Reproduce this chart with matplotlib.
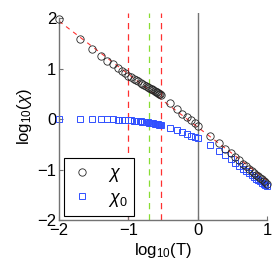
import numpy as np
import matplotlib
matplotlib.use("Agg")
import matplotlib.pyplot as plt

plt.rcParams['font.family'] = ['Liberation Sans', 'DejaVu Sans']
plt.rcParams['mathtext.fontset'] = 'custom'
plt.rcParams['mathtext.rm'] = 'Liberation Sans'
plt.rcParams['mathtext.it'] = 'Liberation Sans:italic'

# temperatures (same grid for both series)
T = [0.01, 0.02, 0.03, 0.04, 0.05, 0.06, 0.07, 0.08, 0.09, 0.10,
     0.11, 0.12, 0.13, 0.14, 0.15, 0.16, 0.17, 0.18, 0.19, 0.20,
     0.21, 0.22, 0.23, 0.24, 0.25, 0.26, 0.27, 0.28, 0.29, 0.30,
     0.4, 0.5, 0.6, 0.7, 0.8, 0.9, 1.0,
     1.5, 2.0, 2.5, 3.0, 3.5, 4.0, 4.5, 5.0, 5.5, 6.0,
     6.5, 7.0, 7.5, 8.0, 8.5, 9.0, 9.5, 10.0]

# log10(chi)
log_chi = [1.98, 1.58, 1.38, 1.25, 1.16, 1.09, 1.02, 0.96, 0.91, 0.86,
           0.83, 0.80, 0.77, 0.745, 0.72, 0.70, 0.68, 0.66, 0.64, 0.62,
           0.605, 0.59, 0.575, 0.56, 0.545, 0.53, 0.515, 0.50, 0.49, 0.475,
           0.31, 0.19, 0.11, 0.045, -0.02, -0.08, -0.14,
           -0.33, -0.47, -0.585, -0.675, -0.75, -0.82, -0.88, -0.93, -0.98, -1.02,
           -1.06, -1.10, -1.135, -1.165, -1.195, -1.225, -1.25, -1.28]

# log10(chi_0)
log_chi0 = [0.01, 0.0, 0.0, 0.0, -0.005, -0.005, -0.01, -0.01, -0.015, -0.02,
            -0.025, -0.03, -0.035, -0.04, -0.045, -0.05, -0.055, -0.06, -0.065, -0.07,
            -0.075, -0.08, -0.085, -0.09, -0.095, -0.10, -0.105, -0.11, -0.115, -0.12,
            -0.18, -0.22, -0.26, -0.30, -0.33, -0.36, -0.38,
            -0.51, -0.63, -0.72, -0.80, -0.87, -0.93, -0.98, -1.03, -1.07, -1.11,
            -1.15, -1.18, -1.21, -1.23, -1.26, -1.28, -1.30, -1.32]

# reference (Curie-like) line end points and marked temperatures
fit_x = [-2.0, 1.0]
fit_y = [1.94, -1.21]
red_lines = [-1.0, np.log10(0.3)]
green_line = np.log10(0.2)

logT = np.log10(T)

fig = plt.figure(figsize=(2.77, 2.72), dpi=100)
ax = fig.add_axes([0.213, 0.191, 0.751, 0.761])

ax.plot(fit_x, fit_y, color='#ff3030', ls=(0, (4, 4)), lw=0.8, zorder=1)
for xv in red_lines:
    ax.plot([xv, xv], [-2, 2.1], color='#ff3030', ls=(0, (5, 4)), lw=0.9, zorder=1)
ax.plot([green_line] * 2, [-2, 2.1], color='#88dd33', ls=(0, (5, 4)), lw=0.9, zorder=1)
ax.plot([0, 0], [-2, 2.1], color='0.45', lw=1.0, zorder=1)

ax.plot(logT, log_chi, 'o', mfc='none', mec='0.15', mew=0.6, ms=5.3,
        label=r'$\chi$', clip_on=False, zorder=3)
ax.plot(logT, log_chi0, 's', mfc='none', mec='#3050ff', mew=0.7, ms=4.4,
        label=r'$\chi_0$', clip_on=False, zorder=2)

ax.set_xlim(-2, 1)
ax.set_ylim(-2, 2.1)
ax.set_xticks([-2, -1, 0, 1])
ax.set_yticks([-2, -1, 0, 1, 2])
for s in ['top', 'right']:
    ax.spines[s].set_visible(False)
for s in ['left', 'bottom']:
    ax.spines[s].set_color('0.45')
    ax.spines[s].set_linewidth(1.0)
ax.spines['left'].set_bounds(-2, 2)
ax.tick_params(direction='in', length=3, width=0.8, color='0.45',
               labelsize=12, pad=2)

ax.set_xlabel(r'log$_{10}$(T)', fontsize=12, labelpad=2)
ax.set_ylabel(r'log$_{10}$($\chi$)', fontsize=12, labelpad=2)

leg = ax.legend(loc='lower left', bbox_to_anchor=(0.025, 0.02), fontsize=13,
                fancybox=False, edgecolor='black', framealpha=1,
                handlelength=1.2, handletextpad=0.8, borderpad=0.4,
                labelspacing=0.3, borderaxespad=0)
leg.get_frame().set_linewidth(0.8)

fig.savefig('out.png', dpi=100)
